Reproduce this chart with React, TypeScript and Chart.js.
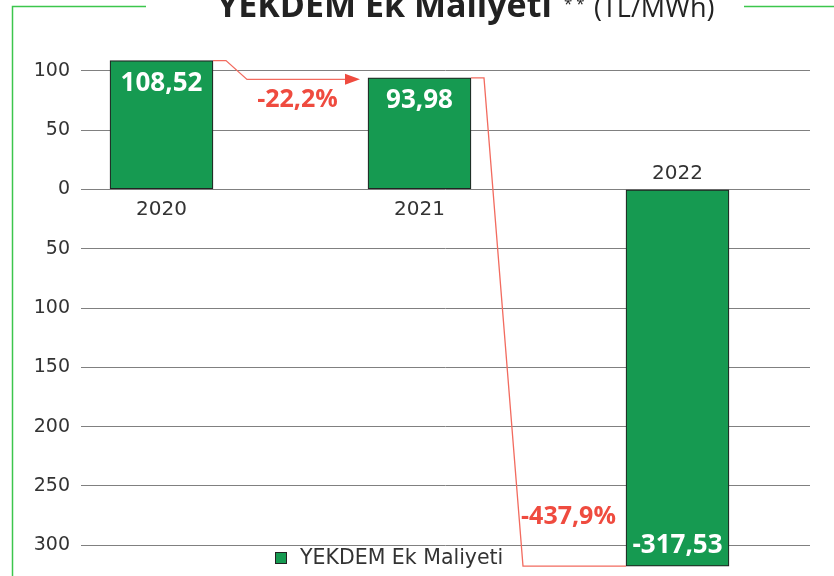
import React, { useEffect, useRef } from "react";
import { Chart, registerables } from "chart.js";

Chart.register(...registerables);

const categories = ["2020", "2021", "2022"];
const values = [108.52, 93.98, -317.53];
const valueLabels = ["108,52", "93,98", "-317,53"];
const changeLabels = ["-22,2%", "-437,9%"];
const yTicks = [100, 50, 0, -50, -100, -150, -200, -250, -300];
const yTickLabels = ["100", "50", "0", "50", "100", "150", "200", "250", "300"];
const seriesName = "YEKDEM Ek Maliyeti";
const titleMain = "YEKDEM Ek Maliyeti";
const titleNote = "* *";
const titleUnit = "(TL/MWh)";

const GREEN = "#169a51";
const RED = "#ef4b3f";
const LINE_RED = "#f26b5f";
const FRAME = "#3cc64d";
const TEXT = "#333333";

const overlayPlugin = {
  id: "overlay",
  afterDatasetsDraw(chart: any) {
    const ctx = chart.ctx as CanvasRenderingContext2D;
    const meta = chart.getDatasetMeta(0);
    const bars = meta.data as any[];
    const yScale = chart.scales.y;
    const zero = yScale.getPixelForValue(0);
    ctx.save();

    // connectors
    const diag = [34, 52];
    for (let i = 0; i < bars.length - 1; i++) {
      const a = bars[i];
      const b = bars[i + 1];
      const aRight = a.x + a.width / 2;
      const bLeft = b.x - b.width / 2;
      const arrow = values[i + 1] >= 0;
      const endX = arrow ? bLeft - 8 : bLeft;
      const ly0 = b.y + (arrow ? 1.5 : 0);
      ctx.beginPath();
      ctx.strokeStyle = LINE_RED;
      ctx.lineWidth = 1.3;
      ctx.moveTo(aRight, a.y);
      ctx.lineTo(aRight + 13, a.y);
      ctx.lineTo(aRight + diag[i], ly0);
      ctx.lineTo(arrow ? endX - 12 : endX, ly0);
      ctx.stroke();
      if (arrow) {
        ctx.beginPath();
        ctx.fillStyle = RED;
        ctx.moveTo(endX, ly0);
        ctx.lineTo(endX - 15, ly0 - 5.5);
        ctx.lineTo(endX - 15, ly0 + 5.5);
        ctx.closePath();
        ctx.fill();
      }
      // change label
      ctx.fillStyle = RED;
      ctx.font = 'bold 25px "Open Sans"';
      ctx.textAlign = "center";
      ctx.textBaseline = "middle";
      const lx = (aRight + diag[i] + endX) / 2 - 6;
      const ly = arrow ? b.y + 22 : b.y - 49;
      ctx.fillText(changeLabels[i], lx, ly);
    }

    // value labels and category labels
    bars.forEach((bar, i) => {
      const top = Math.min(bar.y, bar.base);
      const bottom = Math.max(bar.y, bar.base);
      ctx.fillStyle = "#ffffff";
      ctx.font = 'bold 26px "Open Sans"';
      ctx.textAlign = "center";
      ctx.textBaseline = "middle";
      const vy = values[i] >= 0 ? top + 23 : bottom - 20;
      ctx.fillText(valueLabels[i], bar.x, vy);

      ctx.fillStyle = TEXT;
      ctx.font = '20px "DejaVu Sans"';
      if (values[i] >= 0) {
        ctx.textBaseline = "top";
        ctx.fillText(categories[i], bar.x, zero + 10);
      } else {
        ctx.textBaseline = "alphabetic";
        ctx.fillText(categories[i], bar.x, zero - 10.5);
      }
    });
    ctx.restore();
  },
  afterDraw(chart: any) {
    const ctx = chart.ctx as CanvasRenderingContext2D;
    ctx.save();
    // frame
    ctx.strokeStyle = FRAME;
    ctx.lineWidth = 1.5;
    ctx.beginPath();
    ctx.moveTo(12.5, 576);
    ctx.lineTo(12.5, 6.5);
    ctx.lineTo(146, 6.5);
    ctx.moveTo(744, 6.5);
    ctx.lineTo(834, 6.5);
    ctx.stroke();

    // title (cropped at top)
    ctx.fillStyle = "#222222";
    ctx.textAlign = "left";
    ctx.textBaseline = "alphabetic";
    ctx.font = 'bold 34px "Open Sans"';
    ctx.fillText(titleMain, 217, 17);
    ctx.font = '15px "Open Sans"';
    ctx.fillText(titleNote, 564, 9);
    ctx.font = '27px "Open Sans"';
    ctx.fillText(titleUnit, 594, 17);

    // legend
    ctx.fillStyle = GREEN;
    ctx.fillRect(275, 552, 12, 12);
    ctx.strokeStyle = "#222222";
    ctx.lineWidth = 1;
    ctx.strokeRect(275.5, 552.5, 11, 11);
    ctx.fillStyle = TEXT;
    ctx.font = '20.5px "DejaVu Sans"';
    ctx.textBaseline = "alphabetic";
    ctx.fillText(seriesName, 300, 564);
    ctx.restore();
  },
};

export default function App() {
  const canvasRef = useRef<HTMLCanvasElement | null>(null);

  useEffect(() => {
    if (!canvasRef.current) return;
    const chart = new Chart(canvasRef.current, {
      type: "bar",
      data: {
        datasets: [
          {
            label: seriesName,
            data: values.map((v, i) => ({ x: i, y: v })),
            backgroundColor: GREEN,
            borderColor: "#222222",
            borderWidth: 1.2,
            borderSkipped: false,
            barThickness: 103,
          },
        ],
      },
      options: {
        animation: false,
        responsive: false,
        devicePixelRatio: 1,
        layout: { padding: { top: 47, bottom: 7, left: 0, right: 24 } },
        plugins: {
          legend: { display: false },
          title: { display: false },
          tooltip: { enabled: false },
        },
        scales: {
          x: {
            type: "linear",
            display: false,
            offset: false,
            min: -0.312,
            max: 2.5136,
          },
          y: {
            min: -320,
            max: 120,
            border: { display: false },
            grid: { color: "#808080", lineWidth: 1, drawTicks: false },
            afterBuildTicks: (scale: any) => {
              scale.ticks = yTicks.map((v) => ({ value: v }));
            },
            afterFit: (scale: any) => {
              scale.width = 81;
              scale.paddingTop = 0;
              scale.paddingBottom = 0;
            },
            ticks: {
              padding: 11,
              color: TEXT,
              font: { family: "DejaVu Sans", size: 19 },
              callback: (value: any) => {
                const idx = yTicks.indexOf(Number(value));
                return idx >= 0 ? yTickLabels[idx] : "";
              },
            },
          },
        },
      },
      plugins: [overlayPlugin],
    });
    return () => chart.destroy();
  }, []);

  return (
    <div style={{ position: "absolute", left: 0, top: 0, width: 834, height: 576, background: "#ffffff" }}>
      <canvas ref={canvasRef} width={834} height={576} style={{ display: "block" }} />
    </div>
  );
}
